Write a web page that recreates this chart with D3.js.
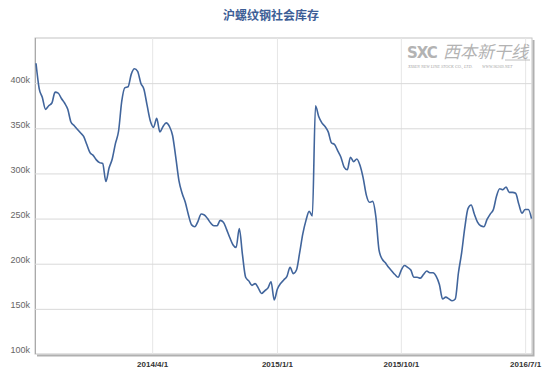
<!DOCTYPE html>
<html>
<head>
<meta charset="utf-8">
<script src="https://cdnjs.cloudflare.com/ajax/libs/d3/7.8.5/d3.min.js"></script>
<style>
  body { margin: 0; background: #fff; }
  .title { font-family: "Noto Sans CJK SC", sans-serif; font-size: 12px; font-weight: bold; fill: #3d5e96; }
  .y.axis text { font-family: "Liberation Sans", Arial, sans-serif; font-size: 9px; fill: #666; }
  .x.axis text { font-family: "Liberation Sans", Arial, sans-serif; font-size: 8px; font-weight: bold; fill: #333; }
  .stock-line { fill: none; stroke: #41659c; stroke-width: 1.6px; }
</style>
</head>
<body>
<div class="interactive-wrapper"></div>
<script>
// weekly series, first reading 2013-07-19, units: tonnes
const startDate = '2013-07-19'
const stockK = [
  422, 394, 384, 371, 375, 378, 390, 389, 383, 378,
  371, 357, 353, 349, 345, 341, 332, 323, 320, 315,
  312, 311, 291, 306, 316, 333, 347, 380, 395, 396,
  410, 416, 413, 400, 393, 375, 358, 351, 361, 346,
  352, 356, 352, 342, 318, 292, 278, 268, 254, 243,
  241, 247, 255, 254, 250, 245, 242, 242, 248, 246,
  238, 229, 221, 218, 239, 210, 185, 181, 176, 178,
  173, 167, 170, 173, 180, 160, 172, 178, 182, 186,
  196, 189, 193, 212, 233, 248, 258, 253, 375, 363,
  356, 352, 346, 334, 332, 325, 318, 307, 304, 318,
  313, 316, 309, 295, 276, 268, 269, 252, 215, 205,
  201, 196, 192, 188, 185, 193, 198, 196, 193, 185,
  185, 184, 188, 192, 190, 190, 186, 177, 161, 163,
  161, 159, 161, 190, 212, 240, 261, 265, 255, 246,
  242, 241, 249, 255, 260, 275, 283, 282, 285, 279,
  279, 278, 266, 256, 260, 260, 250
]
const yTickValues = [100000, 150000, 200000, 250000, 300000, 350000, 400000]
const xTickDates = ['2014-04-01', '2015-01-01', '2015-10-01', '2016-07-01']
const titleText = '沪螺纹钢社会库存'

const w = 553, h = 378
const plot = {left: 35, right: 532, top: 38, bottom: 354}

const parseDate = d3.timeParse('%Y-%m-%d')
const formatTick = d => d3.timeFormat('%Y/%-m/%-d')(d)

const t0 = parseDate(startDate)
const data = stockK.map((v, i) => ({date: d3.timeDay.offset(t0, i * 7), stock: v * 1000}))

const xScale = d3.scaleTime()
  .domain(d3.extent(data, d => d.date))
  .range([plot.left + 1, plot.right - 0.5])

const yScale = d3.scaleLinear()
  .domain([100000, 450000])
  .range([plot.bottom, plot.top])

const svg = d3.select('.interactive-wrapper').append('svg')
  .attr('width', w)
  .attr('height', h)

svg.append('text')
  .attr('class', 'title')
  .attr('x', 271)
  .attr('y', 20)
  .attr('text-anchor', 'middle')
  .text(titleText)

// frame shadow
svg.append('path')
  .attr('d', `M${plot.right + 1.5},${plot.top + 2}V${plot.bottom + 1.5}H${plot.left + 2}`)
  .attr('fill', 'none')
  .attr('stroke', '#b0b0b0')
  .attr('stroke-width', 2)

svg.append('rect')
  .attr('x', plot.left)
  .attr('y', plot.top)
  .attr('width', plot.right - plot.left)
  .attr('height', plot.bottom - plot.top)
  .attr('fill', '#fff')
  .attr('stroke', '#c4c4c4')
  .attr('stroke-width', 1)

svg.append('line')
  .attr('x1', plot.left + 0.5).attr('x2', plot.left + 0.5)
  .attr('y1', plot.top).attr('y2', plot.bottom)
  .attr('stroke', '#aaa')

// vertical grid + x labels
const xTicks = xTickDates.map(parseDate)
let xaxis = svg.append('g')
  .attr('class', 'x axis')
  .attr('transform', `translate(0,${plot.bottom})`)
  .call(
    d3.axisBottom(xScale)
      .tickValues(xTicks)
      .tickSizeInner(-(plot.bottom - plot.top))
      .tickSizeOuter(0)
      .tickFormat(formatTick)
  )
xaxis.select('.domain').remove()
xaxis.selectAll('line').attr('stroke', '#e6e6e6')
xaxis.selectAll('text').attr('y', 7)

// horizontal grid + y labels
let yaxis = svg.append('g')
  .attr('class', 'y axis')
  .attr('transform', `translate(${plot.left},0)`)
  .call(
    d3.axisLeft(yScale)
      .tickValues(yTickValues)
      .tickSizeInner(-(plot.right - plot.left))
      .tickSizeOuter(0)
      .tickFormat(d => (d / 1000) + 'k')
  )
yaxis.select('.domain').remove()
yaxis.selectAll('line').attr('stroke', '#d9d9d9')
yaxis.selectAll('line').filter(d => d === 100000).remove()
yaxis.selectAll('text').attr('x', -5).attr('dy', '-0.12em')

// watermark
const wm = svg.append('g').attr('opacity', 0.75)
wm.append('text')
  .attr('x', 407).attr('y', 58)
  .attr('font-family', '"DejaVu Sans", sans-serif')
  .attr('font-weight', 'bold')
  .attr('font-size', 15)
  .attr('fill', '#9a9a9a')
  .attr('letter-spacing', -1)
  .text('SXC')
wm.append('text')
  .attr('x', 443).attr('y', 58)
  .attr('font-family', '"Noto Sans CJK SC", sans-serif')
  .attr('font-style', 'italic')
  .attr('font-size', 17)
  .attr('fill', '#9a9a9a')
  .attr('transform', 'skewX(0)')
  .text('西本新干线')
wm.append('line')
  .attr('x1', 505).attr('x2', 530).attr('y1', 60).attr('y2', 60)
  .attr('stroke', '#aaa')
wm.append('text')
  .attr('x', 408).attr('y', 68)
  .attr('font-family', '"Liberation Serif", serif')
  .attr('font-style', 'italic')
  .attr('font-size', 4.2)
  .attr('fill', '#888')
  .text('XIBEN NEW LINE STOCK CO., LTD.')
wm.append('text')
  .attr('x', 482).attr('y', 68)
  .attr('font-family', '"Liberation Serif", serif')
  .attr('font-style', 'italic')
  .attr('font-size', 4.2)
  .attr('fill', '#888')
  .text('WWW.96369.NET')

let line = d3.line()
  .x(d => xScale(d.date))
  .y(d => yScale(d.stock))
  .curve(d3.curveMonotoneX)

svg.append('path')
  .datum(data)
  .attr('class', 'stock-line')
  .attr('d', line)
</script>
</body>
</html>
